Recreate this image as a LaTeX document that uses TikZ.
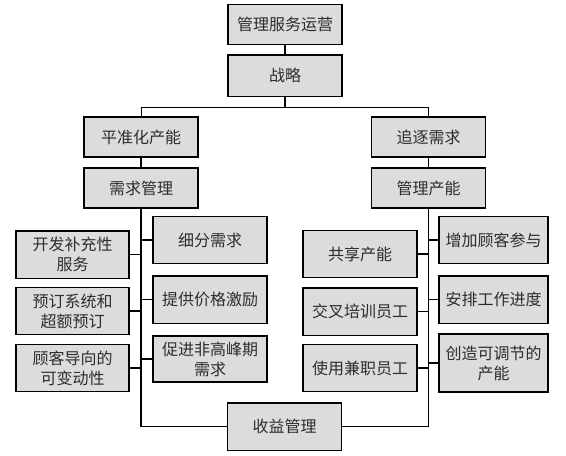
\documentclass[tikz,border=0pt]{standalone}
\usepackage{fontspec}
\newfontfamily\cjk{Noto Sans CJK SC}
\usetikzlibrary{positioning}
\definecolor{boxgray}{RGB}{220,220,220}
\definecolor{inkgray}{RGB}{45,45,45}
\begin{document}
\begin{tikzpicture}[x=0.75pt,y=-0.75pt,
    box/.style={draw=black, fill=boxgray, line width=1pt, text=inkgray, align=center,
                font=\cjk\fontsize{12}{15}\selectfont, inner sep=0pt,
                minimum width=85.5pt, minimum height=30pt},
    tall/.style={minimum height=35.5pt},
    link/.style={line width=0.9pt}]

        \useasboundingbox (0,0) rectangle (566,455);

        \node[box] (top) at (285,24.5) {管理服务运营};
        \node[box, minimum height=31pt] (strat) at (285,75.5) {战略};

        \node[box] (level) at (141,137) {平准化产能};
        \node[box] (demand) at (141,188) {需求管理};

        \node[box] (chase) at (428.5,137) {追逐需求};
        \node[box] (capa) at (428.5,188) {管理产能};

        \node[box, tall, minimum width=84.75pt] (d1) at (72.5,254.5) {开发补充性\\服务};
        \node[box, tall, minimum width=84.75pt] (d2) at (72.5,311) {预订系统和\\超额预订};
        \node[box, tall, minimum width=84.75pt] (d3) at (72.5,368) {顾客导向的\\可变动性};

        \node[box, tall] (d4) at (210,240) {细分需求};
        \node[box, tall] (d5) at (210,299.5) {提供价格激励};
        \node[box, tall, minimum height=34.5pt] (d6) at (210,359) {促进非高峰期\\需求};

        \node[box, tall] (c1) at (360,254) {共享产能};
        \node[box, tall] (c2) at (360,311.5) {交叉培训员工};
        \node[box, tall] (c3) at (360,368) {使用兼职员工};

        \node[box, tall, minimum width=81.75pt] (c4) at (493.5,240) {增加顾客参与};
        \node[box, tall, minimum width=81.75pt] (c5) at (493.5,299.5) {安排工作进度};
        \node[box, tall, minimum width=81.75pt, minimum height=43.5pt] (c6) at (493.5,363) {创造可调节的\\产能};

        \node[box, tall] (yield) at (284.5,426.5) {收益管理};

        \coordinate (split) at (285,107);

        % top of the tree
        \draw[link] (top) -- (strat);
        \draw[link] (strat) -- (split);
        \draw[line width=0.7pt] (level.north) -- (level.north |- split) -- (chase.north |- split) -- (chase.north);
        \draw[link] (level) -- (demand);
        \draw[link] (chase) -- (capa);

        % trunks down to yield management
        \draw[link] (demand.south) |- (yield.west);
        \draw[link] (capa.south) |- (yield.east);

        % branches of demand management
        \foreach \b in {d1,d2,d3}
            \draw[link] (\b.east) -- (\b.east -| demand.south);
        \foreach \b in {d4,d5,d6}
            \draw[link] (\b.west) -- (\b.west -| demand.south);

        % branches of capacity management
        \foreach \b in {c1,c2,c3}
            \draw[link] (\b.east) -- (\b.east -| capa.south);
        \foreach \b in {c4,c5,c6}
            \draw[link] (\b.west) -- (\b.west -| capa.south);

    \end{tikzpicture}
\end{document}
